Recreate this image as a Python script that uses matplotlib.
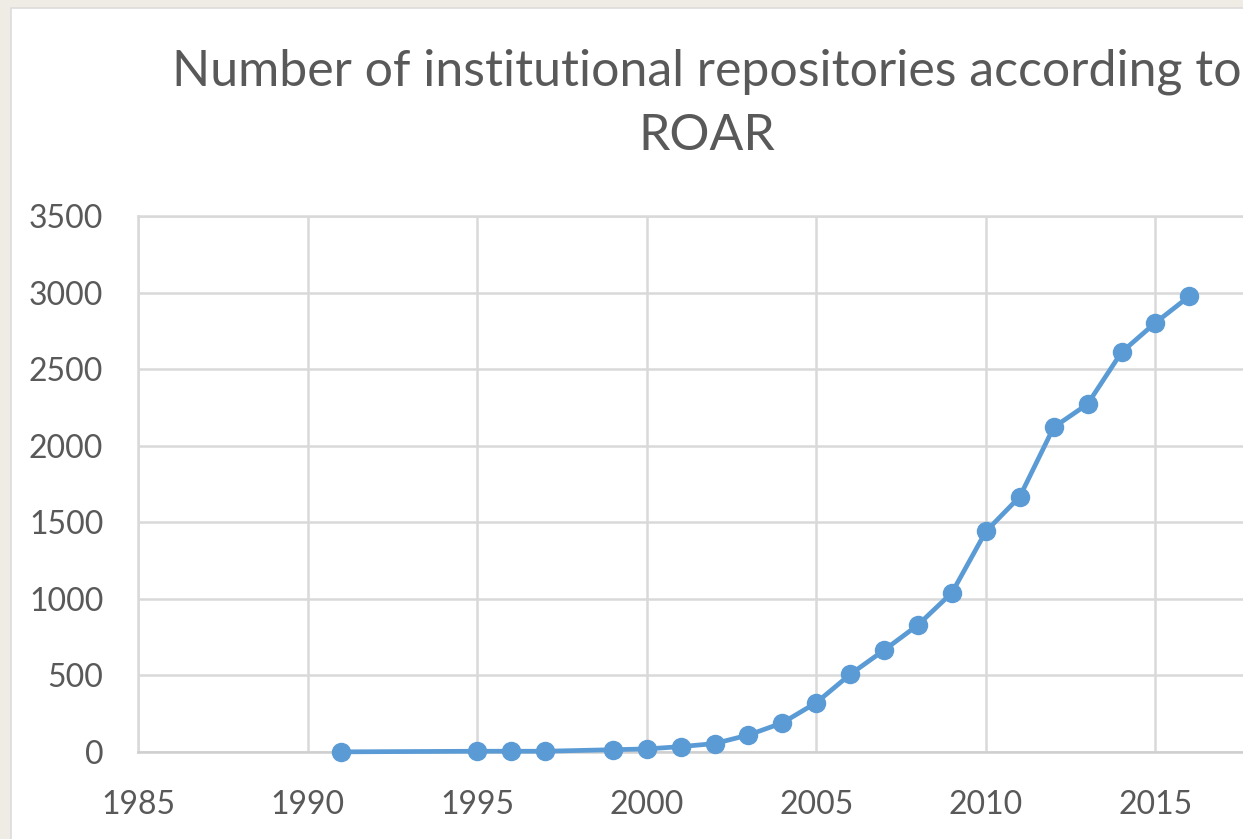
import matplotlib
matplotlib.use('Agg')
import matplotlib.pyplot as plt
from matplotlib.patches import Rectangle

# data
years = [1991, 1995, 1996, 1997, 1999, 2000, 2001, 2002, 2003, 2004, 2005,
         2006, 2007, 2008, 2009, 2010, 2011, 2012, 2013, 2014, 2015, 2016]
repos = [1, 5, 5, 5, 15, 20, 35, 55, 111, 190, 322,
         507, 665, 830, 1040, 1440, 1667, 2120, 2272, 2610, 2803, 2976]
x_ticks = [1985, 1990, 1995, 2000, 2005, 2010, 2015]
y_ticks = [0, 500, 1000, 1500, 2000, 2500, 3000, 3500]
title = "Number of institutional repositories according to\nROAR"

plt.rcParams['font.family'] = ['Lato', 'DejaVu Sans']

W, H = 1243, 839
fig = plt.figure(figsize=(W / 100, H / 100), dpi=100)
fig.patch.set_facecolor('#EEECE5')

# white chart panel (cropped screenshot of an Excel chart)
fig.patches.append(Rectangle((11 / W, -0.01), 1.2, 1 - 8 / H + 0.01,
                             transform=fig.transFigure, facecolor='white',
                             edgecolor='#DCDCDC', linewidth=1.2, zorder=-5))

grid_col = '#D9D9D9'
text_col = '#595959'

ax = fig.add_axes([138 / W, (H - 752) / H, (1325 - 138) / W, 536 / H])
ax.set_facecolor('none')
ax.plot(years, repos, color='#5B9BD5', linewidth=3.4, marker='o',
        markersize=13, markeredgecolor='#5B9BD5', clip_on=False, zorder=3)

ax.set_xlim(1985, 2020)
ax.set_ylim(0, 3500)
ax.set_xticks(x_ticks)
ax.set_yticks(y_ticks)
ax.grid(True, color=grid_col, linewidth=1.8)
ax.set_axisbelow(True)
for s in ax.spines.values():
    s.set_color(grid_col)
    s.set_linewidth(1.8)
ax.spines['bottom'].set_color('#CFCFCF')
ax.tick_params(axis='both', length=0, labelsize=23, labelcolor=text_col)
ax.tick_params(axis='x', pad=27)
ax.tick_params(axis='y', pad=25)

fig.text(707 / W, (H - 104) / H, title, ha='center', va='center',
         fontsize=36, color=text_col, linespacing=1.5)

fig.savefig('out.png', dpi=100, facecolor=fig.get_facecolor())
